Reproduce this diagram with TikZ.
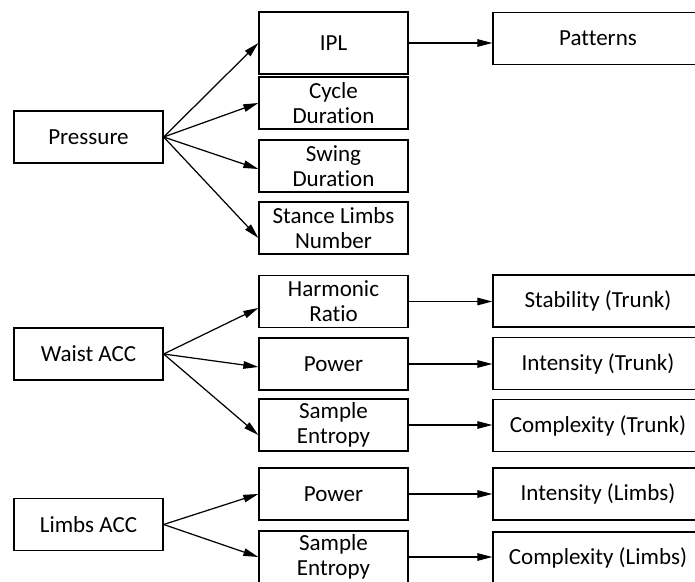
\documentclass[tikz,border=0pt]{standalone}
\usepackage{fontspec}
\setmainfont{Carlito}[Ligatures=NoCommon]
\usetikzlibrary{arrows.meta}

\begin{document}
\begin{tikzpicture}[font=\fontsize{13.1}{14.2}\selectfont,
  >={Triangle[length=0.3cm,width=0.15cm]},
  box/.style={draw, line width=0.75pt, minimum width=2.98cm, minimum height=1.04cm, align=center, inner sep=1pt},
  widebox/.style={box, minimum width=4.2cm},
  link/.style={->, line width=0.7pt}]
\useasboundingbox (0,0) rectangle (13.9,11.62);

% sensors
\node[box] (pressure) at (1.77,8.88) {Pressure};
\node[box] (waist) at (1.77,4.54) {Waist ACC};
\node[box] (limbs) at (1.77,1.13) {Limbs ACC};

% features from pressure
\node[box, minimum height=1.24cm] (ipl) at (6.67,10.76) {IPL};
\node[box] (cycle) at (6.67,9.56) {Cycle\\Durat\kern0pt ion};
\node[box] (swing) at (6.67,8.30) {Swing\\Durat\kern0pt ion};
\node[box] (stance) at (6.67,7.06) {Stance Limbs\\Number};

% features from waist and limbs
\node[box] (harmonic) at (6.67,5.59) {Harmonic\\Ratio};
\node[box] (powerw) at (6.67,4.34) {Power};
\node[box] (samplew) at (6.67,3.12) {Sample\\Entropy};
\node[box] (powerl) at (6.67,1.74) {Power};
\node[box] (samplel) at (6.67,0.48) {Sample\\Entropy};

% what they tell
\node[widebox] (patterns) at (11.96,10.85) {Patterns};
\node[widebox] (stabt) at (11.96,5.60) {Stability (Trunk)};
\node[widebox] (intt) at (11.96,4.35) {Intensity (Trunk)};
\node[widebox] (cplxt) at (11.96,3.11) {Complexity (Trunk)};
\node[widebox] (intl) at (11.96,1.74) {Intensity (Limbs)};
\node[widebox] (cplxl) at (11.96,0.46) {Complexity (Limbs)};

% fans out of the sensors
\draw[link] (pressure.east) -- (ipl.west);
\draw[link] (pressure.east) -- (cycle.west);
\draw[link] (pressure.east) -- ([yshift=-0.06cm]swing.west);
\draw[link] (pressure.east) -- ([yshift=-0.2cm]stance.west);
\draw[link] (waist.east) -- ([yshift=-0.13cm]harmonic.west);
\draw[link] (waist.east) -- ([yshift=-0.06cm]powerw.west);
\draw[link] (waist.east) -- ([yshift=-0.2cm]samplew.west);
\draw[link] (limbs.east) -- (powerl.west);
\draw[link] (limbs.east) -- (samplel.west);

% straight links to the right column
\draw[link] (ipl.east) -- (ipl.east -| patterns.west);
\draw[link] (harmonic.east) -- (harmonic.east -| stabt.west);
\draw[link] (powerw.east) -- (powerw.east -| intt.west);
\draw[link] (samplew.east) -- (samplew.east -| cplxt.west);
\draw[link] (powerl.east) -- (powerl.east -| intl.west);
\draw[link] (samplel.east) -- (samplel.east -| cplxl.west);
\end{tikzpicture}
\end{document}
